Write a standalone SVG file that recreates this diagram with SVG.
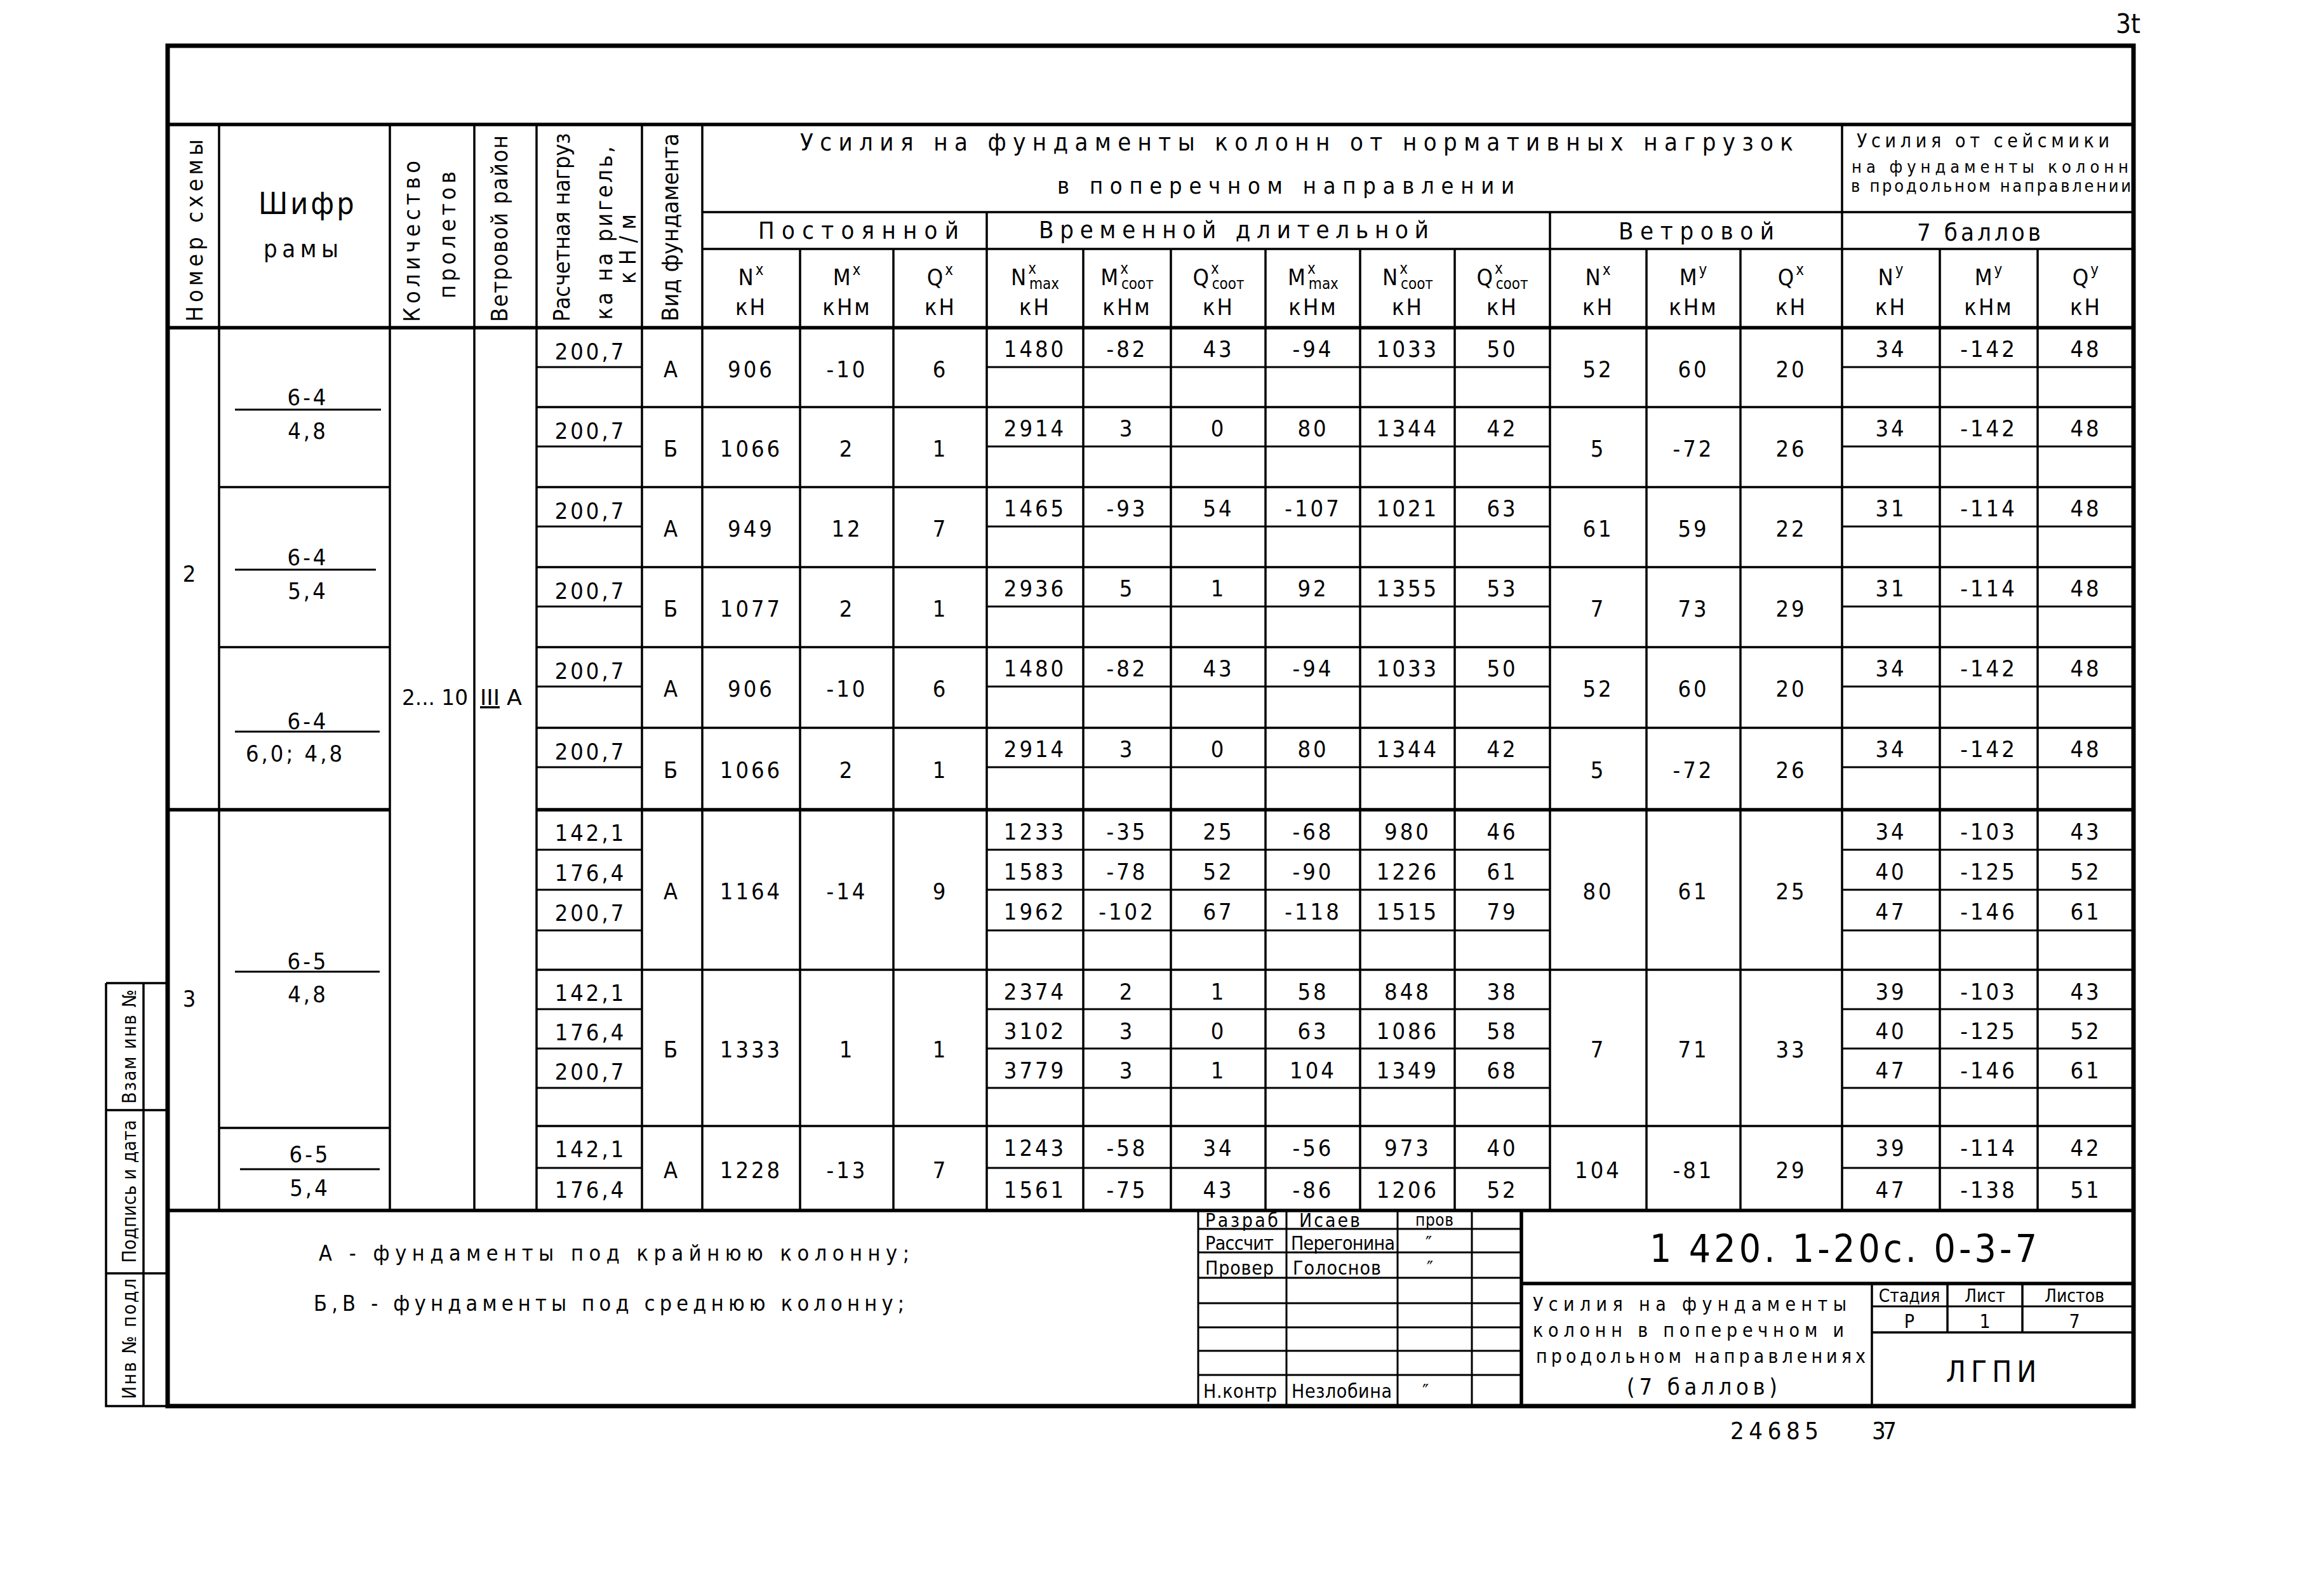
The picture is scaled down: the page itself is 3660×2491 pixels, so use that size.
<svg xmlns="http://www.w3.org/2000/svg" width="3660" height="2491" viewBox="0 0 3660 2491">
<style>
text{font-family:"Liberation Sans Narrow","DejaVu Sans Condensed","Liberation Sans",sans-serif;fill:#000}
.d{font-size:36px;letter-spacing:4px;text-anchor:middle}
.h{font-size:36px;letter-spacing:3px;text-anchor:middle}
.sup{font-size:24px;letter-spacing:1px}
.sub{font-size:24px;letter-spacing:0px}
.v{font-size:36px;text-anchor:middle}
.s{font-size:30px}
.l{stroke:#000;fill:none;stroke-width:3.5}
.b{stroke-width:5.5}
.f{stroke-width:7}
.t{stroke-width:3}
</style>
<rect width="3660" height="2491" fill="#fff"/>

<g id="lines">
<path class="l f" d="M264,72 H3360 V2214 H264 Z"/>
<path class="l b" d="M264,196 H3360 M264,516 H3360 M264,1906 H3360"/>
<path class="l" d="M1106,334 H3360 M1106,392 H3360"/>
<path class="l" d="M345,196 V1906 M614,196 V1906 M747,196 V1906 M845,196 V1906 M1011,196 V1906 M1106,196 V1906 M2901,196 V1906 M1554,334 V1906 M2441,334 V1906"/>
<path class="l" d="M1260,392 V1906 M1407,392 V1906 M1706,392 V1906 M1844,392 V1906 M1993,392 V1906 M2142,392 V1906 M2291,392 V1906 M2593,392 V1906 M2741,392 V1906 M3055,392 V1906 M3209,392 V1906"/>
<path class="l" d="M845,641 H3360 M345,767 H614 M845,767 H3360 M845,893 H3360 M345,1019 H614 M845,1019 H3360 M845,1146 H3360 M845,1527 H3360 M345,1776 H614 M845,1773 H3360"/>
<path class="l b" d="M264,1275 H614 M845,1275 H3360"/>
<path class="l t" d="M845,578 H1011 M1554,578 H2441 M2901,578 H3360 M845,703 H1011 M1554,703 H2441 M2901,703 H3360 M845,829 H1011 M1554,829 H2441 M2901,829 H3360 M845,955 H1011 M1554,955 H2441 M2901,955 H3360 M845,1081 H1011 M1554,1081 H2441 M2901,1081 H3360 M845,1208 H1011 M1554,1208 H2441 M2901,1208 H3360"/>
<path class="l t" d="M845,1338 H1011 M1554,1338 H2441 M2901,1338 H3360 M845,1401 H1011 M1554,1401 H2441 M2901,1401 H3360 M845,1465 H1011 M1554,1465 H2441 M2901,1465 H3360 M845,1589 H1011 M1554,1589 H2441 M2901,1589 H3360 M845,1651 H1011 M1554,1651 H2441 M2901,1651 H3360 M845,1713 H1011 M1554,1713 H2441 M2901,1713 H3360 M845,1839 H1011 M1554,1839 H2441 M2901,1839 H3360"/>
<path class="l t" d="M370,645 H600 M370,897 H592 M370,1152 H598 M370,1530 H598 M378,1841 H598"/>
<path class="l" d="M167,1548 H264 M167,1548 V2214 H264 M226,1548 V2214 M167,1748 H264 M167,2005 H264"/>
<path class="l b" d="M2396,1906 V2214 M2396,2021 H3360"/>
<path class="l" d="M2948,2021 V2214 M2948,2098 H3360 M3067,2021 V2098 M3185,2021 V2098"/>
<path class="l t" d="M2948,2057 H3360"/>
<path class="l t" d="M1887,1906 V2214 M2026,1906 V2214 M2201,1906 V2214 M2318,1906 V2214 M1887,1935 H2396 M1887,1972 H2396 M1887,2012 H2396 M1887,2052 H2396 M1887,2090 H2396 M1887,2127 H2396 M1887,2165 H2396"/>
</g>

<g id="header">
<text class="v" transform="translate(319,363) rotate(-90)" textLength="287" lengthAdjust="spacing">Номер схемы</text>
<text x="407" y="337" font-size="48" letter-spacing="4">Шифр</text>
<text x="415" y="405" font-size="38" textLength="118" lengthAdjust="spacing">рамы</text>
<text class="v" transform="translate(661,380) rotate(-90)" textLength="254" lengthAdjust="spacing">Количество</text>
<text class="v" transform="translate(717,370) rotate(-90)" textLength="200" lengthAdjust="spacing">пролетов</text>
<text class="v" transform="translate(799,360) rotate(-90)" textLength="294" lengthAdjust="spacing">Ветровой район</text>
<text class="v" transform="translate(897,358) rotate(-90)" textLength="297" lengthAdjust="spacing">Расчетная нагруз</text>
<text class="v" transform="translate(964,367) rotate(-90)" textLength="273" lengthAdjust="spacing">ка на ригель,</text>
<text class="v" transform="translate(1001,392) rotate(-90)" textLength="110" lengthAdjust="spacing">кН/м</text>
<text class="v" transform="translate(1068,358) rotate(-90)" textLength="296" lengthAdjust="spacingAndGlyphs">Вид фундамента</text>

<text x="1260" y="237" font-size="38" textLength="1564" lengthAdjust="spacing">Усилия на фундаменты колонн от нормативных нагрузок</text>
<text x="1665" y="305" font-size="36" textLength="720" lengthAdjust="spacing">в поперечном направлении</text>
<text x="2924" y="232" font-size="30" textLength="398" lengthAdjust="spacing">Усилия от сейсмики</text>
<text x="2916" y="272" font-size="27" textLength="436" lengthAdjust="spacing">на фундаменты колонн</text>
<text x="2915" y="302" font-size="27" textLength="441" lengthAdjust="spacing">в продольном направлении</text>

<text x="1194" y="376" font-size="38" textLength="316" lengthAdjust="spacing">Постоянной</text>
<text x="1636" y="375" font-size="38" textLength="614" lengthAdjust="spacing">Временной длительной</text>
<text x="2549" y="377" font-size="38" textLength="245" lengthAdjust="spacing">Ветровой</text>
<text x="3019" y="379" font-size="38" textLength="195" lengthAdjust="spacing">7 баллов</text>

<text class="h" x="1183" y="449">N<tspan class="sup" dy="-16">x</tspan></text>
<text class="h" x="1334" y="449">M<tspan class="sup" dy="-16">x</tspan></text>
<text class="h" x="1481" y="449">Q<tspan class="sup" dy="-16">x</tspan></text>
<text class="h" x="1630" y="449">N<tspan class="sup" dy="-18">x</tspan><tspan class="sub" dx="-12" dy="24">max</tspan></text>
<text class="h" x="1775" y="449">M<tspan class="sup" dy="-18">x</tspan><tspan class="sub" dx="-12" dy="24">соот</tspan></text>
<text class="h" x="1919" y="449">Q<tspan class="sup" dy="-18">x</tspan><tspan class="sub" dx="-12" dy="24">соот</tspan></text>
<text class="h" x="2068" y="449">M<tspan class="sup" dy="-18">x</tspan><tspan class="sub" dx="-12" dy="24">max</tspan></text>
<text class="h" x="2217" y="449">N<tspan class="sup" dy="-18">x</tspan><tspan class="sub" dx="-12" dy="24">соот</tspan></text>
<text class="h" x="2366" y="449">Q<tspan class="sup" dy="-18">x</tspan><tspan class="sub" dx="-12" dy="24">соот</tspan></text>
<text class="h" x="2517" y="449">N<tspan class="sup" dy="-16">x</tspan></text>
<text class="h" x="2667" y="449">M<tspan class="sup" dy="-16">y</tspan></text>
<text class="h" x="2821" y="449">Q<tspan class="sup" dy="-16">x</tspan></text>
<text class="h" x="2978" y="449">N<tspan class="sup" dy="-16">y</tspan></text>
<text class="h" x="3132" y="449">M<tspan class="sup" dy="-16">y</tspan></text>
<text class="h" x="3285" y="449">Q<tspan class="sup" dy="-16">y</tspan></text>

<text class="h" x="1183" y="496">кН</text>
<text class="h" x="1334" y="496">кНм</text>
<text class="h" x="1481" y="496">кН</text>
<text class="h" x="1630" y="496">кН</text>
<text class="h" x="1775" y="496">кНм</text>
<text class="h" x="1919" y="496">кН</text>
<text class="h" x="2068" y="496">кНм</text>
<text class="h" x="2217" y="496">кН</text>
<text class="h" x="2366" y="496">кН</text>
<text class="h" x="2517" y="496">кН</text>
<text class="h" x="2667" y="496">кНм</text>
<text class="h" x="2821" y="496">кН</text>
<text class="h" x="2978" y="496">кН</text>
<text class="h" x="3132" y="496">кНм</text>
<text class="h" x="3285" y="496">кН</text>
</g>

<g id="left-cells">
<text class="d" x="300" y="916">2</text>
<text class="d" x="300" y="1585">3</text>
<text class="d" x="485" y="638">6-4</text>
<text class="d" x="485" y="691">4,8</text>
<text class="d" x="485" y="890">6-4</text>
<text class="d" x="485" y="943">5,4</text>
<text class="d" x="485" y="1148">6-4</text>
<text class="d" x="465" y="1199">6,0; 4,8</text>
<text class="d" x="485" y="1526">6-5</text>
<text class="d" x="485" y="1578">4,8</text>
<text class="d" x="488" y="1830">6-5</text>
<text class="d" x="488" y="1883">5,4</text>
<text x="633" y="1110" font-size="34" textLength="104" lengthAdjust="spacingAndGlyphs">2... 10</text>
<text x="756" y="1110" font-size="34" textLength="66" lengthAdjust="spacingAndGlyphs"><tspan text-decoration="underline">III</tspan> A</text>
</g>

<g id="group2">
<text class="d" x="930" y="566">200,7</text><text class="d" x="1058" y="594">А</text>
<text class="d" x="1183" y="594">906</text><text class="d" x="1334" y="594">-10</text><text class="d" x="1481" y="594">6</text>
<text class="d" x="1630" y="562">1480</text><text class="d" x="1775" y="562">-82</text><text class="d" x="1919" y="562">43</text><text class="d" x="2068" y="562">-94</text><text class="d" x="2217" y="562">1033</text><text class="d" x="2366" y="562">50</text>
<text class="d" x="2517" y="594">52</text><text class="d" x="2667" y="594">60</text><text class="d" x="2821" y="594">20</text>
<text class="d" x="2978" y="562">34</text><text class="d" x="3132" y="562">-142</text><text class="d" x="3285" y="562">48</text>

<text class="d" x="930" y="691">200,7</text><text class="d" x="1058" y="719">Б</text>
<text class="d" x="1183" y="719">1066</text><text class="d" x="1334" y="719">2</text><text class="d" x="1481" y="719">1</text>
<text class="d" x="1630" y="687">2914</text><text class="d" x="1775" y="687">3</text><text class="d" x="1919" y="687">0</text><text class="d" x="2068" y="687">80</text><text class="d" x="2217" y="687">1344</text><text class="d" x="2366" y="687">42</text>
<text class="d" x="2517" y="719">5</text><text class="d" x="2667" y="719">-72</text><text class="d" x="2821" y="719">26</text>
<text class="d" x="2978" y="687">34</text><text class="d" x="3132" y="687">-142</text><text class="d" x="3285" y="687">48</text>

<text class="d" x="930" y="817">200,7</text><text class="d" x="1058" y="845">А</text>
<text class="d" x="1183" y="845">949</text><text class="d" x="1334" y="845">12</text><text class="d" x="1481" y="845">7</text>
<text class="d" x="1630" y="813">1465</text><text class="d" x="1775" y="813">-93</text><text class="d" x="1919" y="813">54</text><text class="d" x="2068" y="813">-107</text><text class="d" x="2217" y="813">1021</text><text class="d" x="2366" y="813">63</text>
<text class="d" x="2517" y="845">61</text><text class="d" x="2667" y="845">59</text><text class="d" x="2821" y="845">22</text>
<text class="d" x="2978" y="813">31</text><text class="d" x="3132" y="813">-114</text><text class="d" x="3285" y="813">48</text>

<text class="d" x="930" y="943">200,7</text><text class="d" x="1058" y="971">Б</text>
<text class="d" x="1183" y="971">1077</text><text class="d" x="1334" y="971">2</text><text class="d" x="1481" y="971">1</text>
<text class="d" x="1630" y="939">2936</text><text class="d" x="1775" y="939">5</text><text class="d" x="1919" y="939">1</text><text class="d" x="2068" y="939">92</text><text class="d" x="2217" y="939">1355</text><text class="d" x="2366" y="939">53</text>
<text class="d" x="2517" y="971">7</text><text class="d" x="2667" y="971">73</text><text class="d" x="2821" y="971">29</text>
<text class="d" x="2978" y="939">31</text><text class="d" x="3132" y="939">-114</text><text class="d" x="3285" y="939">48</text>

<text class="d" x="930" y="1069">200,7</text><text class="d" x="1058" y="1097">А</text>
<text class="d" x="1183" y="1097">906</text><text class="d" x="1334" y="1097">-10</text><text class="d" x="1481" y="1097">6</text>
<text class="d" x="1630" y="1065">1480</text><text class="d" x="1775" y="1065">-82</text><text class="d" x="1919" y="1065">43</text><text class="d" x="2068" y="1065">-94</text><text class="d" x="2217" y="1065">1033</text><text class="d" x="2366" y="1065">50</text>
<text class="d" x="2517" y="1097">52</text><text class="d" x="2667" y="1097">60</text><text class="d" x="2821" y="1097">20</text>
<text class="d" x="2978" y="1065">34</text><text class="d" x="3132" y="1065">-142</text><text class="d" x="3285" y="1065">48</text>

<text class="d" x="930" y="1196">200,7</text><text class="d" x="1058" y="1225">Б</text>
<text class="d" x="1183" y="1225">1066</text><text class="d" x="1334" y="1225">2</text><text class="d" x="1481" y="1225">1</text>
<text class="d" x="1630" y="1192">2914</text><text class="d" x="1775" y="1192">3</text><text class="d" x="1919" y="1192">0</text><text class="d" x="2068" y="1192">80</text><text class="d" x="2217" y="1192">1344</text><text class="d" x="2366" y="1192">42</text>
<text class="d" x="2517" y="1225">5</text><text class="d" x="2667" y="1225">-72</text><text class="d" x="2821" y="1225">26</text>
<text class="d" x="2978" y="1192">34</text><text class="d" x="3132" y="1192">-142</text><text class="d" x="3285" y="1192">48</text>
</g>

<g id="group3">
<text class="d" x="930" y="1324">142,1</text><text class="d" x="930" y="1387">176,4</text><text class="d" x="930" y="1450">200,7</text>
<text class="d" x="1058" y="1416">А</text>
<text class="d" x="1183" y="1416">1164</text><text class="d" x="1334" y="1416">-14</text><text class="d" x="1481" y="1416">9</text>
<text class="d" x="1630" y="1322">1233</text><text class="d" x="1775" y="1322">-35</text><text class="d" x="1919" y="1322">25</text><text class="d" x="2068" y="1322">-68</text><text class="d" x="2217" y="1322">980</text><text class="d" x="2366" y="1322">46</text>
<text class="d" x="1630" y="1385">1583</text><text class="d" x="1775" y="1385">-78</text><text class="d" x="1919" y="1385">52</text><text class="d" x="2068" y="1385">-90</text><text class="d" x="2217" y="1385">1226</text><text class="d" x="2366" y="1385">61</text>
<text class="d" x="1630" y="1448">1962</text><text class="d" x="1775" y="1448">-102</text><text class="d" x="1919" y="1448">67</text><text class="d" x="2068" y="1448">-118</text><text class="d" x="2217" y="1448">1515</text><text class="d" x="2366" y="1448">79</text>
<text class="d" x="2517" y="1416">80</text><text class="d" x="2667" y="1416">61</text><text class="d" x="2821" y="1416">25</text>
<text class="d" x="2978" y="1322">34</text><text class="d" x="3132" y="1322">-103</text><text class="d" x="3285" y="1322">43</text>
<text class="d" x="2978" y="1385">40</text><text class="d" x="3132" y="1385">-125</text><text class="d" x="3285" y="1385">52</text>
<text class="d" x="2978" y="1448">47</text><text class="d" x="3132" y="1448">-146</text><text class="d" x="3285" y="1448">61</text>

<text class="d" x="930" y="1576">142,1</text><text class="d" x="930" y="1638">176,4</text><text class="d" x="930" y="1700">200,7</text>
<text class="d" x="1058" y="1665">Б</text>
<text class="d" x="1183" y="1665">1333</text><text class="d" x="1334" y="1665">1</text><text class="d" x="1481" y="1665">1</text>
<text class="d" x="1630" y="1574">2374</text><text class="d" x="1775" y="1574">2</text><text class="d" x="1919" y="1574">1</text><text class="d" x="2068" y="1574">58</text><text class="d" x="2217" y="1574">848</text><text class="d" x="2366" y="1574">38</text>
<text class="d" x="1630" y="1636">3102</text><text class="d" x="1775" y="1636">3</text><text class="d" x="1919" y="1636">0</text><text class="d" x="2068" y="1636">63</text><text class="d" x="2217" y="1636">1086</text><text class="d" x="2366" y="1636">58</text>
<text class="d" x="1630" y="1698">3779</text><text class="d" x="1775" y="1698">3</text><text class="d" x="1919" y="1698">1</text><text class="d" x="2068" y="1698">104</text><text class="d" x="2217" y="1698">1349</text><text class="d" x="2366" y="1698">68</text>
<text class="d" x="2517" y="1665">7</text><text class="d" x="2667" y="1665">71</text><text class="d" x="2821" y="1665">33</text>
<text class="d" x="2978" y="1574">39</text><text class="d" x="3132" y="1574">-103</text><text class="d" x="3285" y="1574">43</text>
<text class="d" x="2978" y="1636">40</text><text class="d" x="3132" y="1636">-125</text><text class="d" x="3285" y="1636">52</text>
<text class="d" x="2978" y="1698">47</text><text class="d" x="3132" y="1698">-146</text><text class="d" x="3285" y="1698">61</text>

<text class="d" x="930" y="1822">142,1</text><text class="d" x="930" y="1886">176,4</text>
<text class="d" x="1058" y="1855">А</text>
<text class="d" x="1183" y="1855">1228</text><text class="d" x="1334" y="1855">-13</text><text class="d" x="1481" y="1855">7</text>
<text class="d" x="1630" y="1820">1243</text><text class="d" x="1775" y="1820">-58</text><text class="d" x="1919" y="1820">34</text><text class="d" x="2068" y="1820">-56</text><text class="d" x="2217" y="1820">973</text><text class="d" x="2366" y="1820">40</text>
<text class="d" x="1630" y="1886">1561</text><text class="d" x="1775" y="1886">-75</text><text class="d" x="1919" y="1886">43</text><text class="d" x="2068" y="1886">-86</text><text class="d" x="2217" y="1886">1206</text><text class="d" x="2366" y="1886">52</text>
<text class="d" x="2517" y="1855">104</text><text class="d" x="2667" y="1855">-81</text><text class="d" x="2821" y="1855">29</text>
<text class="d" x="2978" y="1820">39</text><text class="d" x="3132" y="1820">-114</text><text class="d" x="3285" y="1820">42</text>
<text class="d" x="2978" y="1886">47</text><text class="d" x="3132" y="1886">-138</text><text class="d" x="3285" y="1886">51</text>
</g>

<g id="notes">
<text x="502" y="1985" font-size="34" textLength="930" lengthAdjust="spacing">А - фундаменты под крайнюю колонну;</text>
<text x="494" y="2064" font-size="34" textLength="930" lengthAdjust="spacing">Б,В - фундаменты под среднюю колонну;</text>
</g>

<g id="strip">
<text font-size="30" text-anchor="middle" transform="translate(214,1648) rotate(-90)" textLength="180" lengthAdjust="spacing">Взам инв №</text>
<text font-size="30" text-anchor="middle" transform="translate(214,1876) rotate(-90)" textLength="225" lengthAdjust="spacing">Подпись и дата</text>
<text font-size="30" text-anchor="middle" transform="translate(214,2108) rotate(-90)" textLength="190" lengthAdjust="spacing">Инв № подл</text>
</g>

<g id="title-block">
<text class="s" x="1898" y="1932" textLength="115" lengthAdjust="spacing">Разраб</text>
<text class="s" x="2046" y="1932" textLength="96" lengthAdjust="spacing">Исаев</text>
<text x="2229" y="1930" font-size="26" textLength="60" lengthAdjust="spacing">пров</text>
<text class="s" x="1898" y="1968" textLength="108" lengthAdjust="spacing">Рассчит</text>
<text class="s" x="2033" y="1968" textLength="164" lengthAdjust="spacing">Перегонина</text>
<text class="s" x="2245" y="1968">″</text>
<text class="s" x="1898" y="2007" textLength="108" lengthAdjust="spacing">Провер</text>
<text class="s" x="2036" y="2007" textLength="139" lengthAdjust="spacing">Голоснов</text>
<text class="s" x="2247" y="2007">″</text>
<text class="s" x="1895" y="2201" textLength="116" lengthAdjust="spacing">Н.контр</text>
<text class="s" x="2034" y="2201" textLength="158" lengthAdjust="spacing">Незлобина</text>
<text class="s" x="2240" y="2201">″</text>

<text x="2598" y="1987" font-size="60" textLength="610" lengthAdjust="spacing">1 420. 1-20с. 0-3-7</text>
<text class="s" x="2414" y="2064" textLength="494" lengthAdjust="spacing">Усилия на фундаменты</text>
<text class="s" x="2414" y="2105" textLength="490" lengthAdjust="spacing">колонн в поперечном и</text>
<text class="s" x="2419" y="2146" textLength="519" lengthAdjust="spacing">продольном направлениях</text>
<text x="2562" y="2196" font-size="36" textLength="237" lengthAdjust="spacing">(7 баллов)</text>
<text x="3007" y="2050" font-size="28" text-anchor="middle">Стадия</text>
<text x="3126" y="2050" font-size="28" text-anchor="middle">Лист</text>
<text x="3267" y="2050" font-size="28" text-anchor="middle">Листов</text>
<text x="3007" y="2091" font-size="30" text-anchor="middle">Р</text>
<text x="3126" y="2091" font-size="30" text-anchor="middle">1</text>
<text x="3267" y="2091" font-size="30" text-anchor="middle">7</text>
<text x="3140" y="2176" font-size="46" text-anchor="middle" letter-spacing="8">ЛГПИ</text>
</g>

<g id="page-marks">
<text x="3332" y="52" font-size="42">3t</text>
<text x="2725" y="2266" font-size="38" textLength="139" lengthAdjust="spacing">24685</text>
<text x="2948" y="2266" font-size="38" textLength="39" lengthAdjust="spacing">37</text>
</g>
</svg>
